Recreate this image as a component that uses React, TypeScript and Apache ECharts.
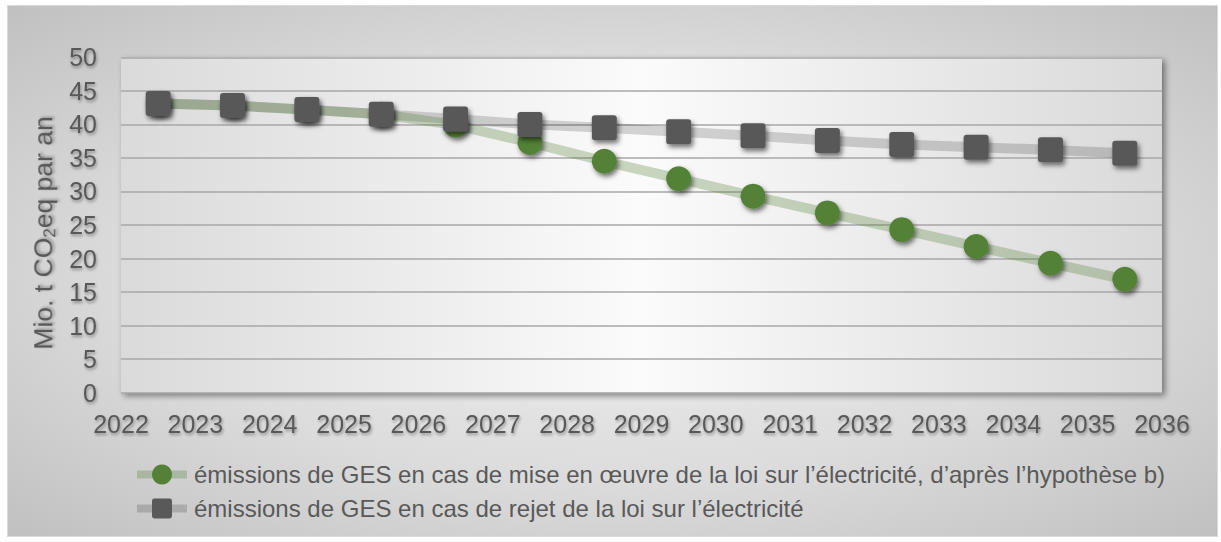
import React, { useEffect, useRef } from "react";
import * as echarts from "echarts";

// Year at the start of each plotted period (points sit mid-year)
const years = [2022, 2023, 2024, 2025, 2026, 2027, 2028, 2029, 2030, 2031, 2032, 2033, 2034, 2035];
const withLaw = [43.1, 42.8, 42.2, 41.5, 39.9, 37.3, 34.5, 31.9, 29.3, 26.8, 24.3, 21.8, 19.3, 16.9];
const withoutLaw = [43.1, 42.8, 42.2, 41.5, 40.8, 40.0, 39.5, 38.9, 38.3, 37.6, 37.0, 36.6, 36.2, 35.7];
const seriesNames = [
  "émissions de GES en cas de mise en œuvre de la loi sur l’électricité, d’après l’hypothèse b)",
  "émissions de GES en cas de rejet de la loi sur l’électricité",
];
const yAxisTitle = "Mio. t CO{sub|2}eq par an";
const yMin = 0;
const yMax = 50;
const yStep = 5;
const xMin = 2022;
const xMax = 2036;

const FONT = "'Liberation Sans', Arial, sans-serif";
const TXT = "#595959";
const GREEN = "#538135";
const GREY = "#595959";
const GREEN_LINE = "rgba(83,129,53,0.3)";
const GREY_LINE = "rgba(0,0,0,0.16)";
const SHADOW = {
  textShadowColor: "rgba(0,0,0,0.35)",
  textShadowBlur: 3,
  textShadowOffsetX: 1,
  textShadowOffsetY: 2,
};
const SQUARE = "path://M3,0H22Q25,0 25,3V22Q25,25 22,25H3Q0,25 0,22V3Q0,0 3,0Z";

export default function App() {
  const ref = useRef<HTMLDivElement>(null);

  useEffect(() => {
    if (!ref.current) return;
    const chart = echarts.init(ref.current, null, { renderer: "svg" });
    const pts = (vals: number[]) => years.map((y, i) => [y + 0.5, vals[i]]);
    const markerShadow = {
      shadowBlur: 5,
      shadowColor: "rgba(0,0,0,0.55)",
      shadowOffsetX: 2,
      shadowOffsetY: 3,
    };
    chart.setOption({
      animation: false,
      backgroundColor: "transparent",
      textStyle: { fontFamily: FONT },
      grid: {
        left: 121,
        right: 59,
        top: 57.3,
        bottom: 149.3,
        show: true,
        borderWidth: 0,
        backgroundColor: new echarts.graphic.LinearGradient(0, 0, 1, 0, [
          { offset: 0, color: "#dadada" },
          { offset: 0.5, color: "#fbfbfb" },
          { offset: 1, color: "#d9d9d9" },
        ]),
        shadowColor: "rgba(0,0,0,0.45)",
        shadowBlur: 6,
        shadowOffsetX: 3,
        shadowOffsetY: 3,
      },
      legend: {
        orient: "vertical",
        left: 133,
        top: 462.5,
        padding: 0,
        itemWidth: 50,
        itemHeight: 25,
        itemGap: 10,
        data: [
          { name: seriesNames[0], lineStyle: { width: 8, color: GREEN_LINE } },
          { name: seriesNames[1], lineStyle: { width: 8, color: GREY_LINE } },
        ],
        textStyle: { color: TXT, fontSize: 24, fontFamily: FONT, padding: [0, 0, 0, 2] },
        itemStyle: { shadowBlur: 0, shadowOffsetX: 0, shadowOffsetY: 0 },
      },
      xAxis: {
        type: "value",
        min: xMin,
        max: xMax,
        interval: 1,
        axisLine: { show: false },
        axisTick: { show: false },
        splitLine: { show: false },
        axisLabel: {
          formatter: (v: number) => String(v),
          color: TXT,
          fontSize: 25,
          fontFamily: FONT,
          margin: 19,
          ...SHADOW,
        },
      },
      yAxis: {
        type: "value",
        min: yMin,
        max: yMax,
        interval: yStep,
        axisLine: { show: false },
        axisTick: { show: false },
        splitLine: { lineStyle: { color: "#a9a6a6", width: 1.5 } },
        axisLabel: {
          color: TXT,
          fontSize: 25,
          fontFamily: FONT,
          margin: 24,
          ...SHADOW,
        },
        name: yAxisTitle,
        nameLocation: "middle",
        nameGap: 55,
        nameTextStyle: {
          color: TXT,
          fontSize: 26.5,
          fontFamily: FONT,
          lineHeight: 31,
          padding: [0, 16, 0, 0],
          ...SHADOW,
          rich: {
            sub: {
              color: TXT,
              fontSize: 17,
              lineHeight: 17,
              verticalAlign: "bottom",
              fontFamily: FONT,
              ...SHADOW,
            },
          },
        },
      },
      series: [
        {
          name: seriesNames[1],
          type: "line",
          z: 2,
          data: pts(withoutLaw),
          showSymbol: false,
          symbol: SQUARE,
          symbolSize: 25,
          lineStyle: { color: GREY_LINE, width: 10 },
          itemStyle: { color: GREY },
          emphasis: { disabled: true },
          silent: true,
        },
        {
          name: seriesNames[0],
          type: "line",
          z: 3,
          data: pts(withLaw),
          symbol: "circle",
          symbolSize: 25,
          lineStyle: { color: GREEN_LINE, width: 10 },
          itemStyle: { color: GREEN, ...markerShadow },
          emphasis: { disabled: true },
          silent: true,
        },
        {
          name: seriesNames[1],
          type: "line",
          z: 4,
          data: pts(withoutLaw),
          symbol: SQUARE,
          symbolSize: 25,
          lineStyle: { width: 0, opacity: 0 },
          itemStyle: { color: GREY, ...markerShadow },
          emphasis: { disabled: true },
          silent: true,
        },
      ],
    });
    return () => chart.dispose();
  }, []);

  return (
    <div style={{ position: "absolute", left: 0, top: 0, width: 1221, height: 542, background: "#ffffff" }}>
      <div
        style={{
          position: "absolute",
          left: 7,
          top: 5,
          width: 1211,
          height: 532,
          boxSizing: "border-box",
          border: "1px solid #d9d9d9",
          background: "radial-gradient(ellipse at 50% 50%, #f1f1f1 0%, #dcdcdc 55%, #c0c0c0 100%)",
        }}
      />
      <div ref={ref} style={{ position: "absolute", left: 0, top: 0, width: 1221, height: 542 }} />
    </div>
  );
}
